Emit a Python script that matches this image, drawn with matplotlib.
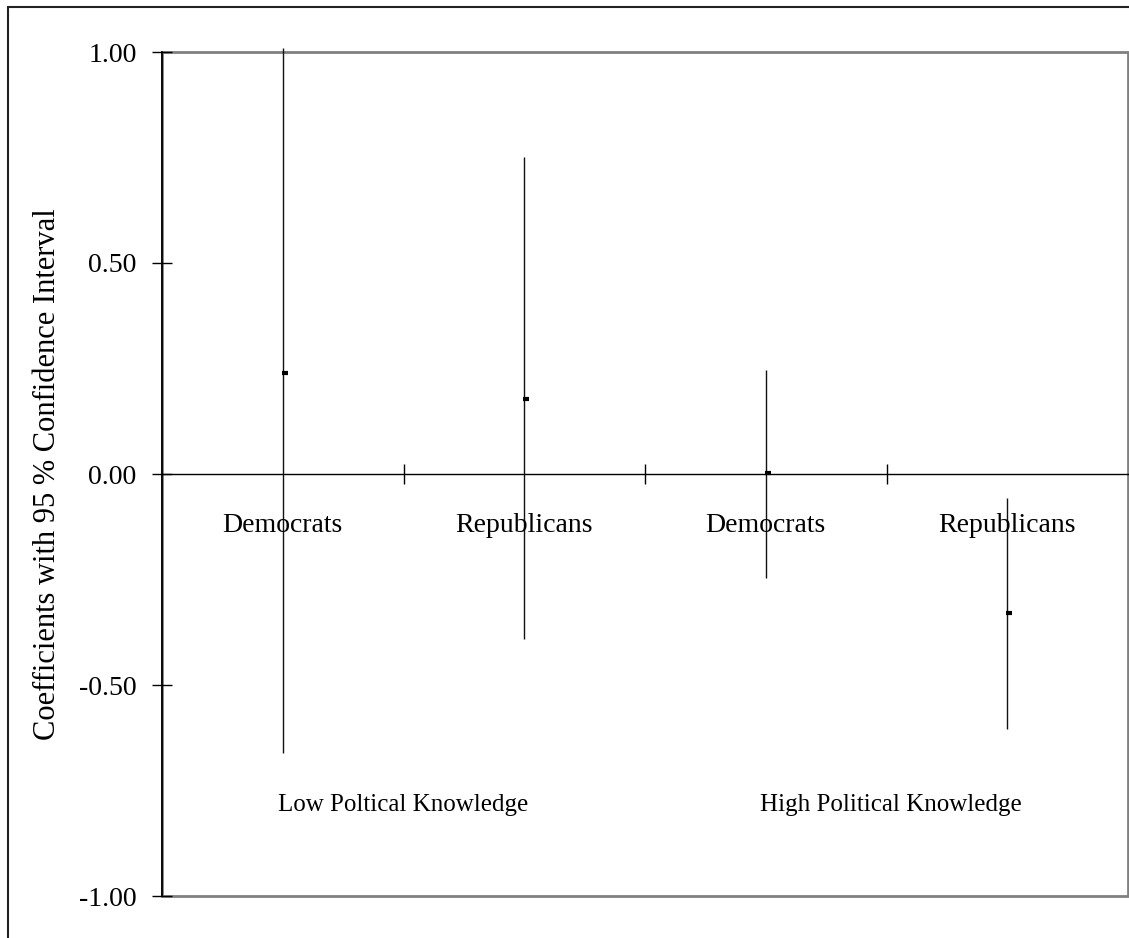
import numpy as np
import matplotlib
matplotlib.use("Agg")
import matplotlib.pyplot as plt
from matplotlib.patches import Rectangle
import matplotlib.transforms as mtransforms

plt.rcParams['font.family'] = ['Liberation Serif', 'DejaVu Serif']

# data
categories = ['Democrats', 'Republicans', 'Democrats', 'Republicans']
groups = ['Low Poltical Knowledge', 'High Political Knowledge']
coef = [0.24, 0.178, 0.002, -0.329]
ci_low = [-0.661, -0.391, -0.246, -0.604]
ci_high = [1.009, 0.750, 0.246, -0.056]
yticks = [-1.0, -0.5, 0.0, 0.5, 1.0]

fig = plt.figure(figsize=(11.29, 9.38), dpi=100)
ax = fig.add_axes([162 / 1129, 42 / 938, 966 / 1129, 844 / 938])

x = np.arange(len(categories)) + 0.5

# confidence intervals
ax.vlines(x, ci_low, ci_high, color='#111111', lw=1.0, zorder=3, clip_on=False)

# point estimates (small dash just right of the line)
off = mtransforms.offset_copy(ax.transData, fig=fig, x=2, y=0, units='dots')
ax.plot(x, coef, ls='none', marker='_', markersize=5, markeredgewidth=3,
        color='black', transform=off, zorder=4)

ax.set_xlim(0, len(categories))
ax.set_ylim(-1, 1)

# frame: left black, the rest grey
for s in ['top', 'right']:
    ax.spines[s].set_visible(False)
ax.spines['left'].set_color('black')
ax.spines['left'].set_linewidth(1.3)
ax.spines['bottom'].set_position(('data', 0))
ax.spines['bottom'].set_color('black')
ax.spines['bottom'].set_linewidth(1.0)
ax.add_patch(Rectangle((0, 0), 1, 1, transform=ax.transAxes, fill=False,
                       edgecolor='#808080', lw=2.0, clip_on=False, zorder=0))

ax.set_yticks(yticks)
ax.set_yticklabels(['%.2f' % v for v in yticks])
ax.tick_params(axis='y', direction='inout', length=14.4, width=1.0,
               labelsize=20, pad=11)
ax.set_xticks([1, 2, 3])
ax.set_xticklabels([])
ax.tick_params(axis='x', direction='inout', length=14.4, width=1.0)

for xi, name in zip(x, categories):
    ax.text(xi, -0.123, name, ha='center', va='center', fontsize=20)

ax.text(1.0, -0.784, groups[0], ha='center', va='center', fontsize=18)
ax.text(3.02, -0.784, groups[1], ha='center', va='center', fontsize=18)

fig.text(48 / 1129, (938 - 474) / 938, 'Coefficients with 95 % Confidence Interval',
         rotation=90, ha='center', va='center', fontsize=22)

# outer border of the picture
fig.add_artist(Rectangle((8 / 1129, -0.05), 1.2, (938 - 7) / 938 + 0.05,
                         transform=fig.transFigure, fill=False,
                         edgecolor='#222222', lw=1.5))

fig.savefig('out.png', dpi=100, facecolor='white')
